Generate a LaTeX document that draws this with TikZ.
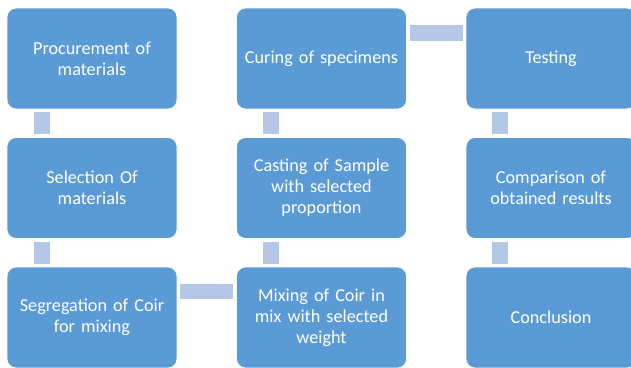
\documentclass[tikz,border=0pt]{standalone}
\usepackage{fontspec}
\setmainfont{Carlito}
\definecolor{boxblue}{HTML}{5B9BD5}
\definecolor{connblue}{HTML}{B4C7E7}
\begin{document}
\begin{tikzpicture}[x=1pt,y=-1pt,
  stepbox/.style={draw=white,line width=0.8pt,fill=boxblue,rounded corners=9pt,
    minimum width=170pt,minimum height=101pt,text width=166pt,align=center,
    text=white,inner sep=0pt,
    font=\fontsize{18.2}{21}\selectfont},
  vconn/.style={draw=connblue,line width=16pt,shorten >=3pt,shorten <=3pt},
  hconn/.style={draw=connblue,line width=15.5pt,shorten >=3pt,shorten <=3pt}]
\useasboundingbox (0,0) rectangle (631,367);
\clip (0,0) rectangle (631,367);
\node[stepbox] (a1) at (92,58.5) {Procurement of\\materials};
\node[stepbox] (a2) at (92,188) {Selection Of\\materials};
\node[stepbox] (a3) at (92,317.5) {Segregation of Coir\\for mixing};
\node[stepbox] (b1) at (321.5,58.5) {Curing of specimens};
\node[stepbox] (b2) at (321.5,188) {Casting of Sample\\with selected\\proportion};
\node[stepbox] (b3) at (321.5,317.5) {Mixing of Coir in\\mix with selected\\weight};
\node[stepbox] (c1) at (551,58.5) {Testing};
\node[stepbox] (c2) at (551,188) {Comparison of\\obtained results};
\node[stepbox] (c3) at (551,317.5) {Conclusion};
\draw[vconn] ([xshift=-50pt]a1.south) -- ([xshift=-50pt]a2.north);
\draw[vconn] ([xshift=-50pt]a2.south) -- ([xshift=-50pt]a3.north);
\draw[hconn] ([yshift=26pt]a3.east) -- ([yshift=26pt]b3.west);
\draw[vconn] ([xshift=-50.5pt]b3.north) -- ([xshift=-50.5pt]b2.south);
\draw[vconn] ([xshift=-50.5pt]b2.north) -- ([xshift=-50.5pt]b1.south);
\draw[hconn] ([yshift=25.5pt]b1.east) -- ([yshift=25.5pt]c1.west);
\draw[vconn] ([xshift=-51pt]c1.south) -- ([xshift=-51pt]c2.north);
\draw[vconn] ([xshift=-51pt]c2.south) -- ([xshift=-51pt]c3.north);
\end{tikzpicture}
\end{document}
